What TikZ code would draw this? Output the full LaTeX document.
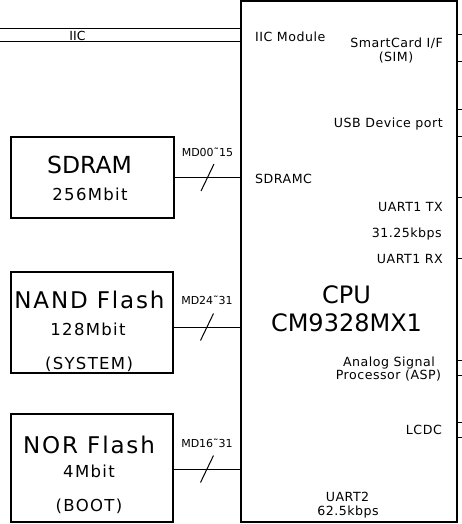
\documentclass[tikz,border=0pt]{standalone}
\usepackage{fontspec}
\setmainfont{DejaVu Sans}[LetterSpace=4]
\newfontfamily\tightfont{DejaVu Sans}
\newfontfamily\widefont{DejaVu Sans}[LetterSpace=8]
\usepackage{tikz}
\usetikzlibrary{positioning, calc}

\begin{document}
\begin{tikzpicture}[
  x=1pt, y=-1pt,
  block/.style={rectangle, draw, line width=1.8pt, inner sep=0pt},
  memname/.style={inner sep=0pt, anchor=base,
    font=\widefont\fontsize{23}{25}\selectfont},
  memsize/.style={inner sep=0pt, anchor=base,
    font=\widefont\fontsize{16.5}{18}\selectfont},
  cpuname/.style={inner sep=0pt, anchor=base,
    font=\tightfont\fontsize{24}{25}\selectfont},
  unit/.style={inner sep=0pt, font=\fontsize{12.6}{13}\selectfont},
  buslabel/.style={inner sep=0pt, anchor=base,
    font=\tightfont\fontsize{11}{12}\selectfont},
  wire/.style={line width=1pt}
]
\useasboundingbox (0,0) rectangle (462,524);

% CPU block
\node[block, minimum width=216pt, minimum height=521pt] (cpu) at (349,261.5) {};
\node[cpuname] (cpuA) at (346.5,303.3) {CPU};
\node[cpuname] (cpuB) at (346.5,331) {CM9328MX1};

% Memory blocks
\node[block, minimum width=163pt, minimum height=81pt] (sdram) at (92.5,177.5) {};
\node[memname, font=\tightfont\fontsize{23.5}{25}\selectfont] (sdramA) at (89.5,173.3) {SDRAM};
\node[memsize] (sdramB) at (90,200) {256Mbit};

\node[block, minimum width=162pt, minimum height=101pt] (nand) at (92,322.5) {};
\node[memname] (nandA) at (89.5,308) {NAND Flash};
\node[memsize] (nandB) at (88,335) {128Mbit};
\node[memsize] (nandC) at (89,369.5) {(SYSTEM)};

\node[block, minimum width=162pt, minimum height=108pt] (nor) at (92,468) {};
\node[memname] (norA) at (89,453) {NOR Flash};
\node[memsize] (norB) at (89,477) {4Mbit};
\node[memsize] (norC) at (89,511) {(BOOT)};

% Units inside the CPU
\node[unit, anchor=base west] (iicmod) at (255,41.5) {IIC Module};
\node[unit, anchor=base east] (sim) at (443,48) {SmartCard I/F};
\node[unit, anchor=base] (simB) at (396,61.5) {(SIM)};
\node[unit, anchor=base east] (usb) at (443,128) {USB Device port};
\node[unit, anchor=base west] (sdramc) at (255,183.3) {SDRAMC};
\node[unit, anchor=base east] (uarttx) at (443,211) {UART1 TX};
\node[unit, anchor=base east] (uartrate) at (442,237) {31.25kbps};
\node[unit, anchor=base east] (uartrx) at (443,263) {UART1 RX};
\node[unit, anchor=base] (asp) at (389,366) {Analog Signal};
\node[unit, anchor=base] (aspB) at (388.5,379.3) {Processor (ASP)};
\node[unit, anchor=base east] (lcdc) at (442,434.3) {LCDC};
\node[unit, anchor=base] (uart2) at (347.5,501.7) {UART2};
\node[unit, anchor=base] (uart2B) at (348,515) {62.5kbps};

% IIC bus
\coordinate (iicA) at (0,29);
\coordinate (iicB) at (0,42);
\draw[wire] (iicA) -- (iicA -| cpu.west);
\draw[wire] (iicB) -- (iicB -| cpu.west);
\node[inner sep=0pt, anchor=base, font=\tightfont\fontsize{12.5}{13}\selectfont]
  (iic) at (77.5,40.5) {IIC};

% Memory buses
\draw[wire] (sdram.east) -- coordinate (sdbus) (sdram.east -| cpu.west);
\draw[wire] ([xshift=-6.5pt,yshift=-13.5pt]sdbus) -- ([xshift=6.5pt,yshift=13.5pt]sdbus);
\node[buslabel, above=0pt of sdbus, anchor=base, yshift=21pt] (sdlbl) {MD00˜15};

\draw[wire] ([yshift=-4.5pt]nand.east) -- coordinate (nandbus) ([yshift=-4.5pt]nand.east -| cpu.west);
\draw[wire] ([xshift=-6.5pt,yshift=-13.5pt]nandbus) -- ([xshift=6.5pt,yshift=13.5pt]nandbus);
\node[buslabel, above=0pt of nandbus, anchor=base, yshift=23pt] (nandlbl) {MD24˜31};

\draw[wire] ([yshift=-1pt]nor.east) -- coordinate (norbus) ([yshift=-1pt]nor.east -| cpu.west);
\draw[wire] ([xshift=-6.5pt,yshift=-13.5pt]norbus) -- ([xshift=6.5pt,yshift=13.5pt]norbus);
\node[buslabel, above=0pt of norbus, anchor=base, yshift=22pt] (norlbl) {MD16˜31};

% Stubs leaving the CPU
\foreach \y in {35,62,110,136,197,258,360,375,422,437}
  \draw[wire] (cpu.east |- 0,\y) -- (462,\y);
\foreach \x in {310,376}
  \draw[wire] (cpu.north -| \x,0) -- (\x,0);
\end{tikzpicture}
\end{document}
